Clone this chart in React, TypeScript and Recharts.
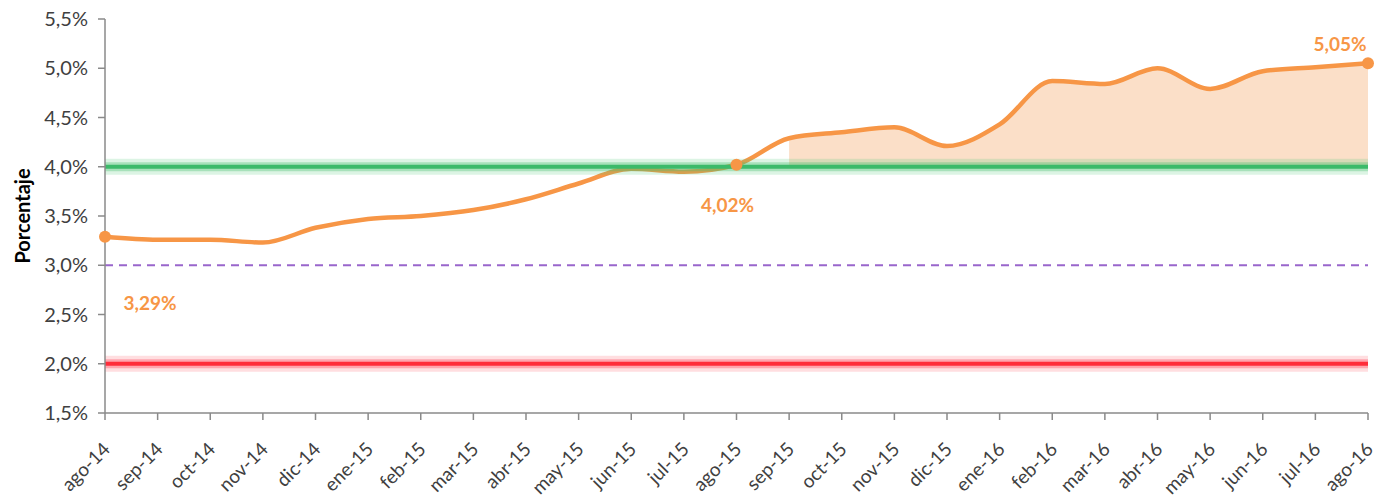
import { ComposedChart, Line, Area, XAxis, YAxis, ReferenceLine } from 'recharts';

const months = [
  'ago-14', 'sep-14', 'oct-14', 'nov-14', 'dic-14', 'ene-15', 'feb-15', 'mar-15', 'abr-15',
  'may-15', 'jun-15', 'jul-15', 'ago-15', 'sep-15', 'oct-15', 'nov-15', 'dic-15', 'ene-16',
  'feb-16', 'mar-16', 'abr-16', 'may-16', 'jun-16', 'jul-16', 'ago-16',
];

const rate = [
  3.29, 3.26, 3.26, 3.23, 3.38, 3.47, 3.5, 3.56, 3.67,
  3.83, 3.98, 3.95, 4.02, 4.29, 4.35, 4.4, 4.21, 4.43,
  4.87, 4.84, 5.0, 4.79, 4.97, 5.01, 5.05,
];

const yTicks = [1.5, 2, 2.5, 3, 3.5, 4, 4.5, 5, 5.5];
const upperTarget = 4;
const midTarget = 3;
const lowerTarget = 2;
const shadeFrom = 13; // sep-15
const labelled = [0, 12, 24];

const ORANGE = '#f79646';
const FONT = 'Lato, "Open Sans", sans-serif';

const data = months.map((m, i) => ({
  month: m,
  rate: rate[i],
  band: i >= shadeFrom ? [upperTarget, rate[i]] : null,
}));

const fmt = (v: number, d: number) => `${v.toFixed(d).replace('.', ',')}%`;

const XTick = ({ x, y, payload }: any) => (
  <g transform={`translate(${x - 3},${y + 19})`}>
    <text x={0} y={0} dy="0.7em" textAnchor="end" transform="rotate(-45)" fill="#404040" fontSize={19} fontFamily={FONT}>
      {payload.value}
    </text>
  </g>
);

const labelOffsets: Record<number, [number, number]> = {
  0: [45, 68],
  12: [-9, 42],
  24: [-28, -17],
};

const PointLabel = ({ x, y, index, value }: any) => {
  if (!labelled.includes(index)) return null;
  const [dx, dy] = labelOffsets[index];
  return (
    <text x={x + dx} y={y + dy} textAnchor="middle" dominantBaseline="middle" fill={ORANGE} fontSize={19} fontWeight={700} fontFamily={FONT}>
      {fmt(value, 2)}
    </text>
  );
};

const PointDot = ({ cx, cy, index }: any) => {
  if (!labelled.includes(index)) return <g key={index} />;
  return <circle key={index} cx={cx} cy={cy} r={6} fill={ORANGE} />;
};

export default function App() {
  return (
    <div style={{ position: 'absolute', left: 0, top: 0, width: 1378, height: 497, background: '#fff' }}>
      <ComposedChart width={1378} height={497} data={data} margin={{ top: 19, right: 10, bottom: 0, left: 0 }}>
        <XAxis
          dataKey="month"
          scale="point"
          interval={0}
          tick={<XTick />}
          tickSize={7}
          stroke="#8a8a8a"
          strokeWidth={1.5}
          height={84}
        />
        <YAxis
          domain={[1.5, 5.5]}
          ticks={yTicks}
          width={105}
          tickSize={7}
          tickMargin={10}
          stroke="#8a8a8a"
          strokeWidth={1.5}
          tickFormatter={(v: number) => fmt(v, 1)}
          tick={{ fill: '#404040', fontSize: 20, fontFamily: FONT }}
          label={{
            content: ({ viewBox }: any) => {
              const cy = viewBox.y + viewBox.height / 2;
              return (
                <text x={25} y={cy} transform={`rotate(-90,25,${cy})`} textAnchor="middle" dominantBaseline="middle" fill="#000" fontSize={20} fontWeight={700} fontFamily={FONT}>
                  Porcentaje
                </text>
              );
            },
          }}
        />
        <Area type="monotone" dataKey="band" stroke="none" fill="#fbdfc8" fillOpacity={1} isAnimationActive={false} connectNulls={false} />
        <ReferenceLine y={midTarget} stroke="#9966cc" strokeWidth={2} strokeDasharray="8 6" />
        <ReferenceLine y={lowerTarget} stroke="rgba(255,90,100,0.2)" strokeWidth={16} />
        <ReferenceLine y={lowerTarget} stroke="rgba(255,60,80,0.35)" strokeWidth={9} />
        <ReferenceLine y={lowerTarget} stroke="#ff2d3a" strokeWidth={4} />
        <Line
          type="monotone"
          dataKey="rate"
          stroke={ORANGE}
          strokeWidth={4.5}
          dot={<PointDot />}
          activeDot={false}
          label={<PointLabel />}
          isAnimationActive={false}
        />
        <ReferenceLine y={upperTarget} stroke="rgba(80,200,120,0.2)" strokeWidth={16} />
        <ReferenceLine y={upperTarget} stroke="rgba(70,190,110,0.35)" strokeWidth={9} />
        <ReferenceLine y={upperTarget} stroke="#3cba6a" strokeWidth={4} />
      </ComposedChart>
    </div>
  );
}
